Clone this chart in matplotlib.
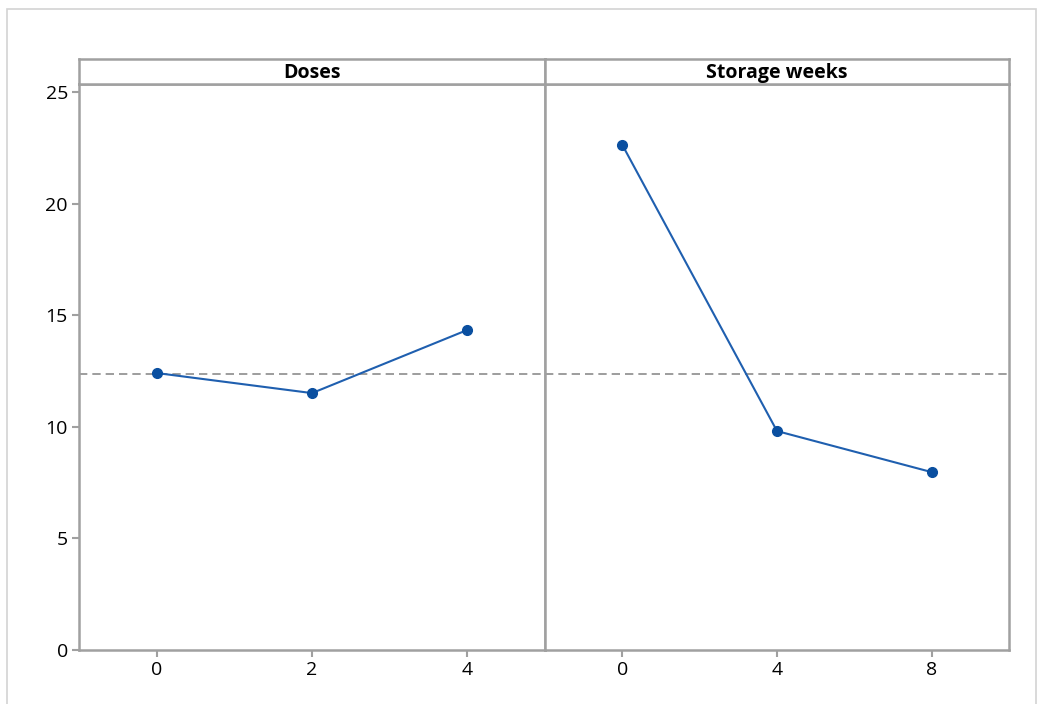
import matplotlib
matplotlib.use("Agg")
import matplotlib.pyplot as plt
from matplotlib.patches import Rectangle

plt.rcParams['font.family'] = ['Open Sans', 'DejaVu Sans']

# main effects: mean response per factor level
factors = ['Doses', 'Storage weeks']
levels = [['0', '2', '4'], ['0', '4', '8']]
means = [[12.41, 11.51, 14.34], [22.63, 9.81, 7.97]]
grand_mean = 12.37
yticks = [0, 5, 10, 15, 20, 25]

W, H = 1046, 704
frame_col = '#A0A0A0'
line_col = '#1F5FAF'
mark_col = '#0A4FA0'

fig = plt.figure(figsize=(W / 100, H / 100), dpi=100)

# light outer border
fig.patches.append(Rectangle((7 / W, -0.01), (1036 - 7) / W, (H - 9) / H + 0.01,
                             transform=fig.transFigure, fill=False,
                             edgecolor='#D3D3D3', linewidth=1.2))

def px_rect(x0, y0, x1, y1):
    return [x0 / W, 1 - y1 / H, (x1 - x0) / W, (y1 - y0) / H]

panels = [(79, 545), (545, 1009)]
for i, (x0, x1) in enumerate(panels):
    ax = fig.add_axes(px_rect(x0, 84, x1, 650))
    xs = range(len(levels[i]))
    ax.axhline(grand_mean, color='#8C8C8C', linestyle=(0, (5, 3)), linewidth=1.2, zorder=1)
    ax.plot(xs, means[i], color=line_col, linewidth=1.5, zorder=2)
    ax.plot(xs, means[i], 'o', color=mark_col, markersize=7, zorder=3)
    ax.set_xlim(-0.5, 2.5)
    ax.set_ylim(0, 25.36)
    ax.set_xticks(list(xs))
    ax.set_xticklabels(levels[i])
    if i == 0:
        ax.set_yticks(yticks)
    else:
        ax.set_yticks([])
    ax.tick_params(direction='out', length=5, width=1.5, color=frame_col,
                   labelsize=14, labelcolor='black', pad=3)
    for sp in ax.spines.values():
        sp.set_color(frame_col)
        sp.set_linewidth(1.8)

    # factor strip on top
    sx = fig.add_axes(px_rect(x0, 59, x1, 84))
    sx.set_xticks([])
    sx.set_yticks([])
    for sp in sx.spines.values():
        sp.set_color(frame_col)
        sp.set_linewidth(1.8)
    sx.text(0.5, 0.45, factors[i], ha='center', va='center', fontsize=14,
            fontweight='bold', transform=sx.transAxes)

fig.savefig('out.png', dpi=100)
